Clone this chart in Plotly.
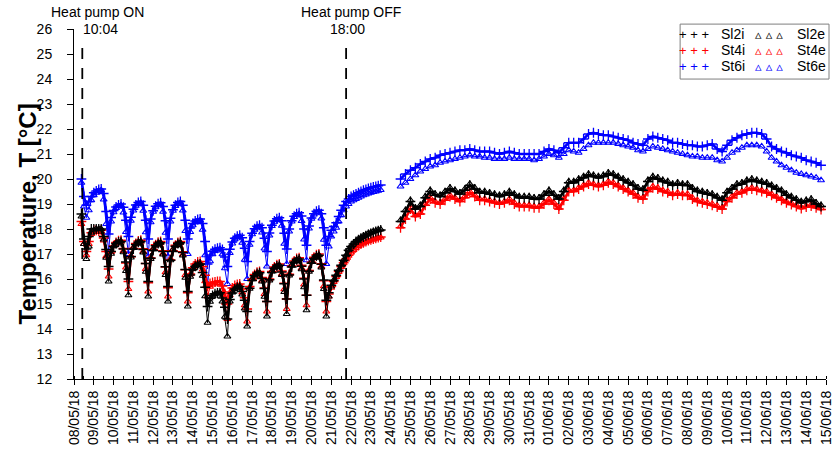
import pandas as pd
import plotly.graph_objects as go

# ---------------- time base ----------------
START_A, STEP_A = "2018-05-08 09:00", "3h"   # 08/05 09:00 -> 23/05 12:00
START_B, STEP_B = "2018-05-24 12:00", "6h"   # 24/05 12:00 -> 14/06 18:00

# ---------------- block A (3-hourly, one row per day: 09,12,15,18,21,00,03,06) ----------------
sl2i_a = [18.6, 17.6, 17.2, 17.7, 18.0, 18.0, 18.0, 18.0,
          18.0, 17.7, 17.18, 16.5, 17.1, 17.3, 17.42, 17.48,
          17.5, 17.2, 16.68, 16.0, 16.9, 17.2, 17.38, 17.47,
          17.5, 17.18, 16.62, 15.9, 16.83, 17.14, 17.33, 17.42,
          17.45, 17.1, 16.49, 15.7, 16.75, 17.1, 17.31, 17.42,
          17.45, 17.06, 16.38, 15.5, 16.16, 16.38, 16.51, 16.58,
          16.6, 16.26, 15.67, 14.9, 15.23, 15.34, 15.41, 15.44,
          15.45, 15.24, 14.87, 14.4, 15.18, 15.44, 15.6, 15.67,
          15.7, 15.5, 15.15, 14.7, 15.63, 15.94, 16.13, 16.22,
          16.25, 16.02, 15.62, 15.1, 15.97, 16.26, 16.43, 16.52,
          16.55, 16.28, 15.81, 15.2, 16.16, 16.48, 16.67, 16.77,
          16.8, 16.51, 16.0, 15.35, 16.31, 16.63, 16.82, 16.92,
          16.95, 16.59, 15.96, 15.15, 15.45, 15.75, 15.95, 16.15,
          16.35, 16.55, 16.75, 16.95, 17.15, 17.3, 17.4, 17.5,
          17.57, 17.63, 17.68, 17.73, 17.78, 17.82, 17.86, 17.9,
          17.93, 17.96]
st4i_a = [18.3, 17.5, 17.1, 17.5, 17.85, 17.95, 17.95, 17.92,
          17.95, 17.64, 17.1, 16.4, 17.09, 17.32, 17.46, 17.53,
          17.55, 17.22, 16.64, 15.9, 16.89, 17.22, 17.42, 17.52,
          17.55, 17.21, 16.62, 15.85, 16.84, 17.17, 17.37, 17.47,
          17.5, 17.13, 16.48, 15.65, 16.76, 17.13, 17.35, 17.46,
          17.5, 17.09, 16.37, 15.45, 16.2, 16.45, 16.6, 16.68,
          16.7, 16.5, 16.15, 15.7, 15.82, 15.86, 15.88, 15.9,
          15.9, 15.72, 15.41, 15.0, 15.48, 15.64, 15.74, 15.78,
          15.8, 15.6, 15.25, 14.8, 15.7, 16.0, 16.18, 16.27,
          16.3, 16.06, 15.64, 15.1, 16.0, 16.3, 16.48, 16.57,
          16.6, 16.32, 15.83, 15.2, 16.19, 16.52, 16.72, 16.82,
          16.85, 16.55, 16.03, 15.35, 16.34, 16.67, 16.87, 16.97,
          17.0, 16.61, 15.93, 15.1, 15.4, 15.7, 15.9, 16.1,
          16.3, 16.5, 16.65, 16.8, 16.95, 17.08, 17.18, 17.27,
          17.34, 17.4, 17.45, 17.5, 17.54, 17.57, 17.6, 17.63,
          17.66, 17.68]
st6i_a = [20.0, 19.3, 18.95, 19.1, 19.3, 19.45, 19.52, 19.58,
          19.6, 19.42, 18.7, 17.8, 18.46, 18.74, 18.88, 18.96,
          19.0, 18.87, 18.35, 17.7, 18.47, 18.79, 18.96, 19.06,
          19.1, 18.95, 18.35, 17.6, 18.4, 18.73, 18.91, 19.01,
          19.05, 18.9, 18.33, 17.6, 18.43, 18.77, 18.95, 19.06,
          19.1, 18.95, 18.35, 17.6, 18.04, 18.22, 18.32, 18.38,
          18.4, 18.22, 17.5, 16.6, 16.96, 17.11, 17.19, 17.23,
          17.25, 17.18, 16.88, 16.5, 17.19, 17.48, 17.63, 17.71,
          17.75, 17.65, 17.23, 16.7, 17.5, 17.83, 18.01, 18.11,
          18.15, 18.05, 17.63, 17.1, 17.84, 18.15, 18.32, 18.41,
          18.45, 18.33, 17.83, 17.2, 18.0, 18.33, 18.51, 18.61,
          18.65, 18.52, 18.0, 17.35, 18.12, 18.44, 18.61, 18.71,
          18.75, 18.61, 18.05, 17.35, 17.7, 17.95, 18.1, 18.25,
          18.5, 18.75, 18.95, 19.1, 19.2, 19.3, 19.35, 19.4,
          19.45, 19.5, 19.55, 19.58, 19.62, 19.65, 19.68, 19.7,
          19.73, 19.76]
sl2e_a = [18.5, 17.4, 16.8, 17.3, 17.85, 17.95, 18.0, 18.0,
          18.0, 17.58, 16.85, 15.9, 17.01, 17.31, 17.42, 17.48,
          17.5, 17.07, 16.32, 15.35, 16.86, 17.24, 17.39, 17.47,
          17.5, 17.06, 16.29, 15.3, 16.8, 17.19, 17.34, 17.42,
          17.45, 16.98, 16.16, 15.1, 16.75, 17.17, 17.33, 17.42,
          17.45, 16.94, 16.05, 14.9, 16.09, 16.4, 16.52, 16.58,
          16.6, 16.13, 15.31, 14.25, 15.09, 15.31, 15.39, 15.43,
          15.45, 15.1, 14.49, 13.7, 15.1, 15.46, 15.6, 15.67,
          15.7, 15.38, 14.82, 14.1, 15.61, 15.99, 16.14, 16.22,
          16.25, 15.9, 15.29, 14.5, 15.94, 16.3, 16.45, 16.52,
          16.55, 16.16, 15.48, 14.6, 16.14, 16.54, 16.69, 16.77,
          16.8, 16.39, 15.67, 14.75, 16.29, 16.69, 16.84, 16.92,
          16.95, 16.46, 15.6, 14.5, 15.3, 15.7, 15.95, 16.15,
          16.35, 16.55, 16.75, 16.95, 17.15, 17.3, 17.42, 17.52,
          17.6, 17.66, 17.72, 17.77, 17.82, 17.86, 17.9, 17.93,
          17.96, 17.98]
st4e_a = [18.2, 17.4, 16.95, 17.4, 17.8, 17.9, 17.9, 17.88,
          17.9, 17.54, 16.91, 16.1, 17.08, 17.33, 17.43, 17.47,
          17.5, 17.12, 16.46, 15.6, 16.93, 17.27, 17.41, 17.47,
          17.5, 17.1, 16.4, 15.5, 16.87, 17.22, 17.35, 17.42,
          17.45, 17.02, 16.27, 15.3, 16.81, 17.19, 17.34, 17.42,
          17.45, 16.98, 16.16, 15.1, 16.19, 16.46, 16.57, 16.62,
          16.65, 16.38, 15.91, 15.3, 15.69, 15.78, 15.82, 15.84,
          15.85, 15.56, 15.05, 14.4, 15.35, 15.59, 15.68, 15.73,
          15.75, 15.46, 14.95, 14.3, 15.67, 16.02, 16.15, 16.22,
          16.25, 15.94, 15.4, 14.7, 15.99, 16.33, 16.46, 16.52,
          16.55, 16.2, 15.59, 14.8, 16.2, 16.56, 16.7, 16.77,
          16.8, 16.43, 15.78, 14.95, 16.35, 16.71, 16.85, 16.92,
          16.95, 16.5, 15.71, 14.7, 15.3, 15.65, 15.88, 16.08,
          16.28, 16.48, 16.63, 16.78, 16.93, 17.06, 17.16, 17.25,
          17.32, 17.38, 17.43, 17.48, 17.52, 17.55, 17.58, 17.61,
          17.64, 17.66]
st6e_a = [19.85, 18.9, 18.45, 18.75, 19.15, 19.35, 19.45, 19.52,
          19.55, 19.18, 18.2, 17.1, 18.3, 18.67, 18.84, 18.91,
          18.95, 18.66, 17.88, 17.0, 18.33, 18.74, 18.93, 19.01,
          19.05, 18.73, 17.87, 16.9, 18.27, 18.69, 18.87, 18.96,
          19.0, 18.69, 17.85, 16.9, 18.3, 18.73, 18.92, 19.01,
          19.05, 18.74, 17.92, 17.0, 17.88, 18.15, 18.27, 18.32,
          18.35, 17.97, 16.95, 15.8, 16.71, 16.99, 17.12, 17.17,
          17.2, 16.99, 16.43, 15.8, 17.04, 17.42, 17.59, 17.66,
          17.7, 17.45, 16.77, 16.0, 17.37, 17.79, 17.97, 18.06,
          18.1, 17.86, 17.22, 16.5, 17.74, 18.12, 18.29, 18.36,
          18.4, 18.13, 17.41, 16.6, 17.9, 18.3, 18.48, 18.56,
          18.6, 18.32, 17.58, 16.75, 18.02, 18.41, 18.58, 18.66,
          18.7, 18.42, 17.57, 16.6, 17.3, 17.7, 17.9, 18.05,
          18.3, 18.55, 18.75, 18.9, 19.0, 19.1, 19.15, 19.2,
          19.25, 19.3, 19.35, 19.38, 19.42, 19.45, 19.48, 19.5,
          19.53, 19.56]

# ---------------- block B (6-hourly) ----------------
sl2i_b = [18.3, 18.7, 19.1, 18.8, 18.9, 19.25, 19.5, 19.35, 19.3, 19.45,
          19.6, 19.5, 19.4, 19.55, 19.75, 19.6, 19.45, 19.45, 19.4, 19.35,
          19.3, 19.35, 19.45, 19.35, 19.25, 19.25, 19.25, 19.2, 19.2, 19.35,
          19.5, 19.35, 19.2, 19.5, 19.85, 19.85, 19.95, 20.05, 20.15, 20.1,
          20.05, 20.1, 20.2, 20.15, 20.05, 19.95, 19.85, 19.75, 19.6, 19.55,
          19.9, 20.05, 20.0, 19.9, 19.85, 19.75, 19.8, 19.75, 19.75, 19.6,
          19.5, 19.45, 19.4, 19.35, 19.25, 19.15, 19.45, 19.6, 19.75, 19.8,
          19.9, 19.95, 19.9, 19.85, 19.8, 19.7, 19.6, 19.5, 19.35, 19.25,
          19.15, 19.05, 19.1, 19.15, 19.0, 18.9]
st4i_b = [18.05, 18.4, 18.8, 18.5, 18.6, 18.95, 19.2, 19.05, 19.0, 19.15,
          19.3, 19.2, 19.1, 19.25, 19.45, 19.3, 19.15, 19.15, 19.1, 19.05,
          19.0, 19.05, 19.15, 19.0, 18.9, 18.9, 18.9, 18.85, 18.85, 19.0,
          19.15, 19.0, 18.8, 19.15, 19.5, 19.5, 19.6, 19.7, 19.8, 19.75,
          19.7, 19.75, 19.85, 19.8, 19.7, 19.6, 19.5, 19.4, 19.25, 19.2,
          19.5, 19.65, 19.6, 19.5, 19.45, 19.35, 19.4, 19.35, 19.35, 19.2,
          19.1, 19.05, 19.0, 18.95, 18.88, 18.8, 19.1, 19.25, 19.4, 19.45,
          19.55, 19.6, 19.55, 19.5, 19.45, 19.35, 19.25, 19.15, 19.05, 18.98,
          18.9, 18.82, 18.88, 18.92, 18.85, 18.78]
st6i_b = [20.0, 20.2, 20.35, 20.45, 20.6, 20.7, 20.8, 20.85, 20.95, 21.0,
          21.05, 21.1, 21.15, 21.15, 21.2, 21.15, 21.1, 21.1, 21.1, 21.05,
          21.0, 21.05, 21.1, 21.05, 21.0, 21.0, 21.0, 21.0, 21.0, 21.1,
          21.2, 21.15, 21.05, 21.25, 21.45, 21.45, 21.45, 21.6, 21.8, 21.85,
          21.8, 21.75, 21.75, 21.7, 21.65, 21.6, 21.55, 21.45, 21.4, 21.35,
          21.6, 21.7, 21.65, 21.6, 21.55, 21.45, 21.45, 21.4, 21.35, 21.35,
          21.3, 21.3, 21.35, 21.4, 21.2, 21.1, 21.35, 21.55, 21.65, 21.75,
          21.8, 21.85, 21.85, 21.8, 21.6, 21.3, 21.2, 21.1, 21.05, 20.95,
          20.9, 20.85, 20.75, 20.7, 20.65, 20.55]
sl2e_b = [18.35, 18.75, 19.15, 18.85, 18.95, 19.3, 19.55, 19.4, 19.35, 19.5,
          19.65, 19.55, 19.45, 19.6, 19.8, 19.65, 19.5, 19.5, 19.45, 19.4,
          19.35, 19.4, 19.5, 19.4, 19.3, 19.3, 19.3, 19.25, 19.25, 19.4,
          19.55, 19.4, 19.25, 19.55, 19.9, 19.9, 20.0, 20.1, 20.2, 20.15,
          20.1, 20.15, 20.25, 20.2, 20.1, 20.0, 19.9, 19.8, 19.65, 19.6,
          19.95, 20.1, 20.05, 19.95, 19.9, 19.8, 19.85, 19.8, 19.8, 19.65,
          19.55, 19.5, 19.45, 19.4, 19.3, 19.2, 19.5, 19.65, 19.8, 19.85,
          19.95, 20.0, 19.95, 19.9, 19.85, 19.75, 19.65, 19.55, 19.4, 19.3,
          19.2, 19.1, 19.15, 19.2, 19.05, 18.95]
st4e_b = [18.1, 18.45, 18.85, 18.55, 18.65, 19.0, 19.25, 19.1, 19.05, 19.2,
          19.35, 19.25, 19.15, 19.3, 19.5, 19.35, 19.2, 19.2, 19.15, 19.1,
          19.05, 19.1, 19.2, 19.05, 18.95, 18.95, 18.95, 18.9, 18.9, 19.05,
          19.2, 19.05, 18.85, 19.2, 19.55, 19.55, 19.65, 19.75, 19.85, 19.8,
          19.75, 19.8, 19.9, 19.85, 19.75, 19.65, 19.55, 19.45, 19.3, 19.25,
          19.55, 19.7, 19.65, 19.55, 19.5, 19.4, 19.45, 19.4, 19.4, 19.25,
          19.15, 19.1, 19.05, 19.0, 18.93, 18.85, 19.15, 19.3, 19.45, 19.5,
          19.6, 19.65, 19.6, 19.55, 19.5, 19.4, 19.3, 19.2, 19.1, 19.03,
          18.95, 18.87, 18.93, 18.97, 18.9, 18.83]
st6e_b = [19.7, 19.85, 20.0, 20.15, 20.3, 20.4, 20.5, 20.55, 20.65, 20.7,
          20.75, 20.8, 20.85, 20.9, 20.95, 20.9, 20.9, 20.85, 20.85, 20.8,
          20.8, 20.8, 20.85, 20.8, 20.8, 20.8, 20.8, 20.75, 20.8, 20.9,
          21.0, 20.95, 20.85, 21.0, 21.15, 21.1, 21.05, 21.2, 21.35, 21.45,
          21.45, 21.45, 21.45, 21.45, 21.4, 21.35, 21.3, 21.25, 21.15, 21.1,
          21.2, 21.3, 21.25, 21.2, 21.15, 21.1, 21.05, 21.0, 20.95, 20.9,
          20.9, 20.85, 20.85, 20.85, 20.75, 20.7, 20.85, 21.05, 21.15, 21.25,
          21.35, 21.35, 21.35, 21.3, 21.1, 20.85, 20.7, 20.55, 20.45, 20.35,
          20.25, 20.2, 20.15, 20.1, 20.05, 19.95]

series_names = ["Sl2i", "St4i", "St6i", "Sl2e", "St4e", "St6e"]
y_ticks = list(range(12, 27))
x_range = ["2018-05-08", "2018-06-15"]
hp_on, hp_off = "2018-05-08 10:04", "2018-05-21 18:00"

t_a = list(pd.date_range(START_A, periods=len(sl2i_a), freq=STEP_A))
t_b = list(pd.date_range(START_B, periods=len(sl2i_b), freq=STEP_B))

blocks = {
    "Sl2i": (sl2i_a, sl2i_b), "St4i": (st4i_a, st4i_b), "St6i": (st6i_a, st6i_b),
    "Sl2e": (sl2e_a, sl2e_b), "St4e": (st4e_a, st4e_b), "St6e": (st6e_a, st6e_b),
}
colors = {"Sl2": "#000000", "St4": "#ff0000", "St6": "#0000ff"}

fig = go.Figure()
draw_order = ["St6e", "St6i", "St4e", "St4i", "Sl2i", "Sl2e"]
for name in draw_order:
    c = colors[name[:3]]
    interior = name.endswith("i")
    ya, yb = blocks[name]
    # None between the two blocks keeps the measurement gap (23/05-24/05) empty
    xs = t_a + [None] + t_b
    ys = ya + [None] + yb
    if interior:
        marker = dict(symbol="cross-thin", size=7, line=dict(color=c, width=1.3), color=c)
        line = dict(color=c, width=2.6)
    else:
        marker = dict(symbol="triangle-up-open", size=6, line=dict(color=c, width=1.2), color=c)
        line = dict(color=c, width=1.0)
    fig.add_trace(go.Scatter(
        x=xs, y=ys, mode="lines+markers", name=name, marker=marker, line=line,
        connectgaps=False, showlegend=False, hoverinfo="skip"))

FONT = "Liberation Sans, Arial, sans-serif"

for t in (hp_on, hp_off):
    fig.add_shape(type="line", xref="x", yref="y", x0=t, x1=t, y0=12, y1=25.3,
                  line=dict(color="black", width=1.8, dash="11px,9px"), layer="above")

fig.add_annotation(x=hp_on, y=1.049, xref="x", yref="paper", text="Heat pump ON",
                   showarrow=False, xanchor="center", yanchor="middle", xshift=15,
                   font=dict(size=14, color="black", family=FONT))
fig.add_annotation(x=hp_on, y=1.0, xref="x", yref="paper", text="10:04",
                   showarrow=False, xanchor="left", yanchor="middle", xshift=-1,
                   font=dict(size=14, color="black", family=FONT))
fig.add_annotation(x=hp_off, y=1.049, xref="x", yref="paper", text="Heat pump OFF",
                   showarrow=False, xanchor="center", yanchor="middle", xshift=5,
                   font=dict(size=14, color="black", family=FONT))
fig.add_annotation(x=hp_off, y=1.0, xref="x", yref="paper", text="18:00",
                   showarrow=False, xanchor="center", yanchor="middle", xshift=1,
                   font=dict(size=14, color="black", family=FONT))

# y-axis title (placed as rotated text next to the tick labels)
fig.add_annotation(x=-0.0625, y=0.47, xref="paper", yref="paper",
                   text="<b>Temperature, T [°C]</b>", textangle=-90, showarrow=False,
                   xanchor="center", yanchor="middle",
                   font=dict(size=24, color="black", family=FONT))

# ---------------- legend (two columns, framed) ----------------
fig.add_shape(type="rect", xref="paper", yref="paper", x0=0.806, x1=1.004, y0=0.857, y1=1.014,
              line=dict(color="#7f7f7f", width=1), fillcolor="white", layer="above")
legend_rows = [0.9857, 0.94, 0.894]
for i, name in enumerate(series_names):
    c = colors[name[:3]]
    col = 0 if name.endswith("i") else 1
    row = legend_rows[i % 3]
    sym_x = [0.8245, 0.9245][col]
    txt_x = [0.8577, 0.9588][col]
    sym = "+ + +" if col == 0 else "▵ ▵ ▵"
    fig.add_annotation(x=sym_x, y=row, xref="paper", yref="paper", text=sym, showarrow=False,
                       xanchor="center", yanchor="middle",
                       font=dict(size=13, color=c,
                                 family=FONT if col == 0 else "DejaVu Sans"))
    fig.add_annotation(x=txt_x, y=row, xref="paper", yref="paper", text=name, showarrow=False,
                       xanchor="left", yanchor="middle",
                       font=dict(size=14, color="black", family=FONT))

fig.update_layout(
    width=838, height=456,
    margin=dict(l=74, r=12, t=29, b=77),
    paper_bgcolor="white", plot_bgcolor="white",
    font=dict(family=FONT, size=14, color="black"),
    showlegend=False, hovermode=False,
    xaxis=dict(type="date", range=x_range, dtick=86400000, tick0="2018-05-08",
               tickformat="%d/%m/%y", tickangle=-90, showgrid=False, zeroline=False,
               showline=True, linecolor="black", linewidth=1, automargin=False,
               ticks="outside", ticklen=5, tickcolor="black", tickwidth=1,
               minor=dict(dtick=43200000, ticks="inside", ticklen=3, tickcolor="black", showgrid=False),
               tickfont=dict(size=14, family=FONT, color="black")),
    yaxis=dict(range=[12, 26], tickvals=y_ticks, showgrid=False, zeroline=False,
               showline=True, linecolor="black", linewidth=1, automargin=False,
               ticks="outside", ticklen=6, tickcolor="black", tickwidth=1,
               ticklabelstandoff=12,
               tickfont=dict(size=14, family=FONT, color="black")),
)

# remove the default 8px page margin so the 838x456 figure fills the window exactly
fig.write_html("out.html", config={"displayModeBar": False},
               post_script="document.body.style.margin='0';")
